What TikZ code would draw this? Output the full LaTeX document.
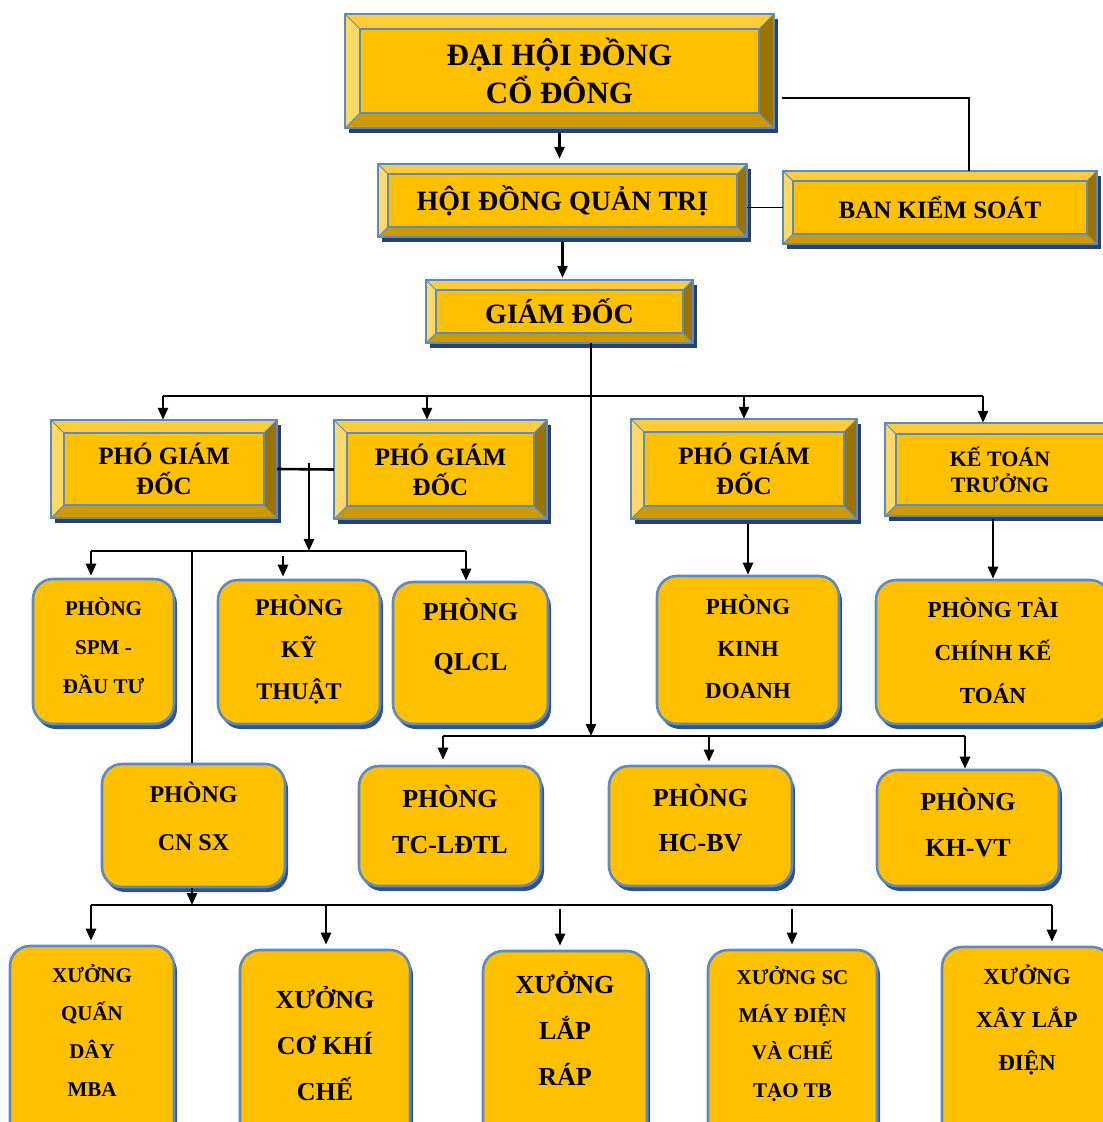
\documentclass[tikz,border=0pt]{standalone}
\usepackage{fontspec}
\setmainfont{Liberation Serif}
\usetikzlibrary{arrows.meta,shadows}
\definecolor{facec}{HTML}{FFC000}
\definecolor{topc}{HTML}{FFCD38}
\definecolor{leftc}{HTML}{FFD966}
\definecolor{botc}{HTML}{CC9900}
\definecolor{rightc}{HTML}{9A7300}
\definecolor{edgec}{HTML}{5B8AC6}
\definecolor{shadowc}{HTML}{2A4265}
\definecolor{rshadowc}{HTML}{34547F}
\tikzset{
  conline/.style={line width=2.6pt},
  conarr/.style={conline, -{Triangle[length=12pt,width=10pt]}},
  rel/.style={line width=1.5pt},
  rbox/.style={draw=edgec, line width=2.6pt, fill=facec, rounded corners=20pt, inner sep=0pt,
    drop shadow={shadow xshift=3pt, shadow yshift=-5pt, fill=rshadowc, opacity=1}},
  txt/.style={align=center, inner sep=0pt, text=black},
}
\newcommand{\bevbox}[8]{%
  \fill[shadowc] ({#2+4},{#3+5}) rectangle ({#4+4},{#5+5});
  \fill[facec] (#2,#3) rectangle (#4,#5);
  \fill[topc] (#2,#3) -- (#4,#3) -- ({#4-#6},{#3+#6}) -- ({#2+#6},{#3+#6}) -- cycle;
  \fill[leftc] (#2,#3) -- ({#2+#6},{#3+#6}) -- ({#2+#6},{#5-#6}) -- (#2,#5) -- cycle;
  \fill[botc] (#2,#5) -- ({#2+#6},{#5-#6}) -- ({#4-#6},{#5-#6}) -- (#4,#5) -- cycle;
  \fill[rightc] (#4,#3) -- (#4,#5) -- ({#4-#6},{#5-#6}) -- ({#4-#6},{#3+#6}) -- cycle;
  \draw[edgec,line width=1pt] (#2,#3) -- ({#2+#6},{#3+#6}) (#4,#3) -- ({#4-#6},{#3+#6})
     (#2,#5) -- ({#2+#6},{#5-#6}) (#4,#5) -- ({#4-#6},{#5-#6});
  \draw[edgec,line width=2pt] ({#2+#6},{#3+#6}) rectangle ({#4-#6},{#5-#6});
  \draw[edgec,line width=2.4pt] (#2,#3) rectangle (#4,#5);
  \node[txt, minimum width={(#4-#2)*1pt}, minimum height={(#5-#3)*1pt}, font={#7}] (#1) at ({(#2+#4)/2},{(#3+#5)/2}) {#8};
}
\newcommand{\rndbox}[8]{%
  \node[rbox, minimum width={(#4-#2)*1pt}, minimum height={(#5-#3)*1pt}] (#1) at ({(#2+#4)/2},{(#3+#5)/2}) {};
  \node[txt, font={#7}] (#1-txt) at ({(#2+#4)/2},#6) {#8};
}
\newcommand{\fs}[2]{\fontsize{#1}{#2}\selectfont\bfseries}
\begin{document}
\begin{tikzpicture}[x=1pt,y=-1pt]
\useasboundingbox (0,0) rectangle (1103,1122);
\clip (0,0) rectangle (1103,1122);
% bevel boxes
\bevbox{dhd}{345}{14}{774}{128}{15}{\fs{31}{38}}{ĐẠI HỘI ĐỒNG\\CỔ ĐÔNG}
\bevbox{hdqt}{378}{164}{747}{237}{10}{\fs{28}{32}}{HỘI ĐỒNG QUẢN TRỊ}
\bevbox{bks}{783}{171}{1097}{244}{10}{\fs{25}{30}}{BAN KIỂM SOÁT}
\bevbox{gd}{426}{280}{693}{343}{10}{\fs{28}{32}}{GIÁM ĐỐC}
\bevbox{pgda}{51}{420}{277}{518}{13}{\fs{25}{30}}{PHÓ GIÁM\\ĐỐC}
\bevbox{pgdb}{334}{420}{547}{519}{13}{\fs{25}{30}}{PHÓ GIÁM\\ĐỐC}
\bevbox{pgdc}{631}{419}{857}{519}{13}{\fs{25}{30}}{PHÓ GIÁM\\ĐỐC}
\bevbox{ktt}{885}{423}{1115}{516}{11}{\fs{22}{26}}{KẾ TOÁN\\TRƯỞNG}
% rounded boxes
\rndbox{spm}{33}{579}{174}{724}{646}{\fs{21}{39}}{PHÒNG\\SPM -\\ĐẦU TƯ}
\rndbox{kt}{218}{580}{380}{724}{650}{\fs{24}{42}}{PHÒNG\\KỸ\\THUẬT}
\rndbox{qlcl}{393}{582}{548}{724}{636}{\fs{26}{50}}{PHÒNG\\QLCL}
\rndbox{kd}{657}{576}{839}{724}{647}{\fs{23}{42}}{PHÒNG\\KINH\\DOANH}
\rndbox{tc}{876}{580}{1110}{724}{651}{\fs{23}{43}}{PHÒNG TÀI\\CHÍNH KẾ\\TOÁN}
\rndbox{cnsx}{102}{764}{285}{887}{816}{\fs{24}{48}}{PHÒNG\\CN SX}
\rndbox{tcl}{359}{766}{541}{886}{819}{\fs{26}{46}}{PHÒNG\\TC-LĐTL}
\rndbox{hcbv}{609}{766}{792}{886}{818}{\fs{26}{45}}{PHÒNG\\HC-BV}
\rndbox{khvt}{877}{770}{1059}{886}{823}{\fs{26}{46}}{PHÒNG\\KH-VT}
\rndbox{qd}{10}{946}{174}{1145}{1031}{\fs{21}{38}}{XƯỞNG\\QUẤN\\DÂY\\MBA}
\rndbox{ck}{240}{950}{410}{1145}{1044}{\fs{26}{46}}{XƯỞNG\\CƠ KHÍ\\CHẾ}
\rndbox{lr}{483}{951}{647}{1145}{1028}{\fs{26}{46}}{XƯỞNG\\LẮP\\RÁP}
\rndbox{sc}{708}{950}{877}{1145}{1034}{\fs{21}{37.5}}{XƯỞNG SC\\MÁY ĐIỆN\\VÀ CHẾ\\TẠO TB}
\rndbox{xl}{942}{947}{1112}{1145}{1020}{\fs{23}{43}}{XƯỞNG\\XÂY LẮP\\ĐIỆN}
% top relations
\coordinate (c1) at (969,98);
\draw[rel] ([xshift=8pt,yshift=-27pt]dhd.east) -- (c1) -- (c1 |- bks.north);
\draw[rel] (hdqt.east |- bks.west) -- (bks.west);
\draw[conarr, shorten >=5pt] ([yshift=-5pt]dhd.south) -- (dhd.south |- hdqt.north);
\draw[conarr, shorten >=2pt] ([yshift=-5pt]hdqt.south) -- (hdqt.south |- gd.north);
% director tree
\coordinate (g1) at (591,736);
\draw[conarr] (gd.south -| g1) -- (g1);
\coordinate (b1a) at (163,396);
\coordinate (b1b) at (427,396);
\coordinate (b1c) at (744,396);
\coordinate (b1d) at (983,396);
\draw[conline] (b1a) -- (b1d);
\draw[conarr] (b1a) -- (b1a |- pgda.north);
\draw[conarr] (b1b) -- (b1b |- pgdb.north);
\draw[conarr] (b1c) -- (b1c |- pgdc.north);
\draw[conarr] (b1d) -- (b1d |- ktt.north);
% vice directors 1-2
\draw[conline] (pgda.east) -- (pgdb.west);
\coordinate (p12) at (309,463);
\coordinate (b2m) at (309,551);
\draw[conarr] (p12) -- (b2m);
\coordinate (b2a) at (91,551);
\coordinate (b2b) at (283,551);
\coordinate (b2c) at (192,551);
\coordinate (b2d) at (466,551);
\draw[conline] (b2a) -- (b2d);
\draw[conarr, shorten >=2pt] (b2a) -- (b2a |- spm.north);
\draw[conarr, shorten >=2pt] ([yshift=-5pt]b2b) -- (b2b |- kt.north);
\draw[conarr] (b2d) -- (b2d |- qlcl.north);
\draw[conline] (b2c) -- (b2c |- cnsx.north);
% vice director 3 and chief accountant
\draw[conarr] ([yshift=-5pt]kd.north |- pgdc.south) -- (kd.north);
\draw[conarr] ([yshift=-3pt]tc.north |- ktt.south) -- (tc.north);
% row 3 bus
\coordinate (b3a) at (443,736);
\coordinate (b3c) at (709,736);
\coordinate (b3d) at (965,736);
\draw[conline] (b3a) -- (b3d);
\draw[conarr, shorten >=5pt] (b3a) -- (b3a |- tcl.north);
\draw[conarr, shorten >=3pt] (b3c) -- (b3c |- hcbv.north);
\draw[conarr] (b3d) -- (b3d |- khvt.north);
% workshops
\coordinate (b4m) at (192,905);
\draw[conarr] (cnsx.south -| b4m) -- (b4m);
\coordinate (b4a) at (91,905);
\coordinate (b4b) at (326,905);
\coordinate (b4c) at (560,905);
\coordinate (b4d) at (792,905);
\coordinate (b4e) at (1052,905);
\draw[conline] (b4a) -- (b4e);
\draw[conarr, shorten >=4pt] (b4a) -- (b4a |- qd.north);
\draw[conarr, shorten >=4pt] (b4b) -- (b4b |- ck.north);
\draw[conarr, shorten >=4pt] ([yshift=-4pt]b4c) -- (b4c |- lr.north);
\draw[conarr, shorten >=4pt] ([yshift=-4pt]b4d) -- (b4d |- sc.north);
\draw[conarr, shorten >=4pt] (b4e) -- (b4e |- xl.north);
\end{tikzpicture}
\end{document}
